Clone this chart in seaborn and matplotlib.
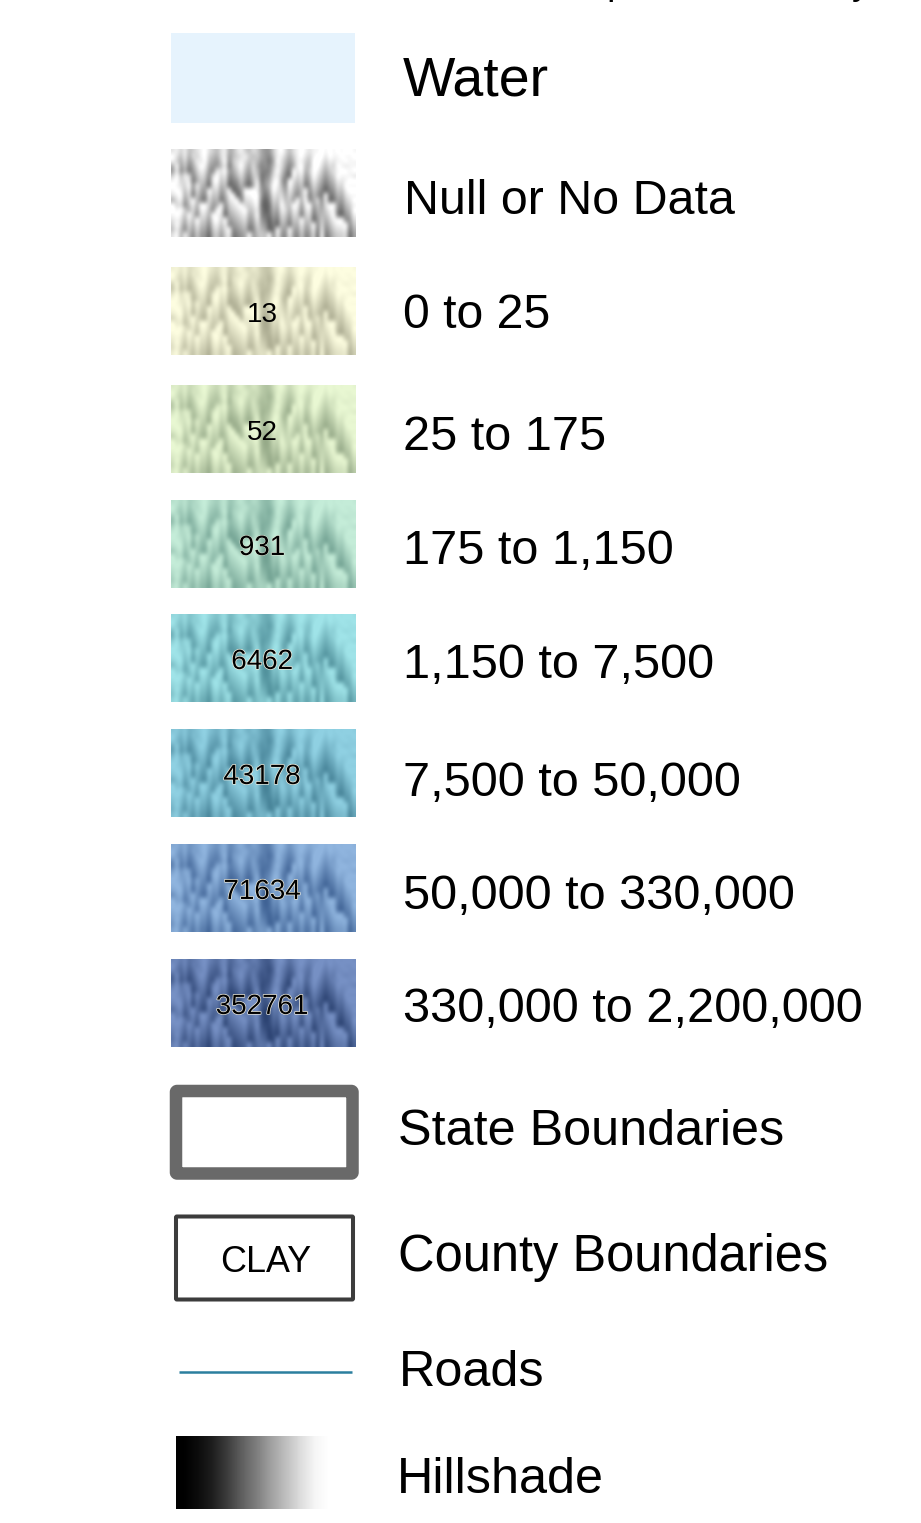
import numpy as np
import matplotlib
matplotlib.use('Agg')
import matplotlib.pyplot as plt
import matplotlib.patheffects as pe
from matplotlib.patches import FancyBboxPatch
import seaborn as sns

sns.set_theme(style='white')
plt.rcParams['font.family'] = ['Liberation Sans', 'DejaVu Sans']

W, H = 921, 1523

# legend content
class_labels = ['0 to 25', '25 to 175', '175 to 1,150', '1,150 to 7,500', '7,500 to 50,000',
                '50,000 to 330,000', '330,000 to 2,200,000']
class_values = ['13', '52', '931', '6462', '43178', '71634', '352761']
class_dark = ['#a8a88e', '#93a786', '#6f9f90', '#4f8f9a', '#437f94', '#3c5f92', '#283f6e']
class_light = ['#fdfde0', '#e8f7d2', '#c4ecd8', '#9fe3e8', '#8fd0e2', '#8fb4de', '#7690c4']

relief_rows = ['7868567897 6578457865 7643368975 7898788989 898998',
               '9758476896 5478356786 5643258864 6897689979 889889',
               '8647358795 4369267875 6533149753 5886599868 788988',
               '4936247984 3358157964 7423258742 4895599757 698788',
               '3825136873 2879346853 7522269631 9794698646 789989',
               '6958725762 7968235742 6612378520 9683597535 698887',
               '8967814651 8957123631 5813489419 7572486424 587899',
               '9876938540 7846012520 4923598529 6461375313 476988',
               '8985827439 6735901399 9832497638 5359264202 365899',
               '7894716328 5624890288 9931386747 4258153191 254788',
               '4783695217 4513789177 8920275856 3949247280 143679',
               '9672584996 3492678966 7910164965 9838936379 932568',
               '9896473885 2981567895 6820153874 8727825468 821459',
               '8985962774 9870456784 5921142763 7616714557 910348',
               '7874859663 8969345673 4832031652 6595603646 899237',
               '6963748552 7858234562 3743020541 5484592735 788926',
               '5852637441 6747923451 2654019439 4373481824 677815',
               '7948526330 5636812349 3565928328 3262370913 566704']
relief = np.array([[int(c) for c in row.replace(' ', '')] for row in relief_rows])

hillshade_ramp = [0, 12, 30, 60, 95, 125, 160, 190, 220, 245, 255]

fig = plt.figure(figsize=(W / 100, H / 100), dpi=100)
fig.patch.set_facecolor('white')


def px_axes(x0, y0, x1, y1):
    ax = fig.add_axes([x0 / W, 1 - y1 / H, (x1 - x0) / W, (y1 - y0) / H])
    ax.set_axis_off()
    return ax


def label(x, y, s, px):
    fig.text(x / W, 1 - (y + 4) / H, s, fontsize=px * 0.72, color='black', ha='left', va='center')


# title is cut by the top edge, only the descenders show
fig.text(562 / W, 1 + 5.5 / H, 'Population Density', fontsize=37 * 0.72, color='black',
         ha='left', va='baseline')

# water
ax = px_axes(171, 33, 355, 123)
ax.set_axis_on()
ax.set_facecolor('#e6f3fd')
ax.set_xticks([])
ax.set_yticks([])
sns.despine(ax=ax, left=True, bottom=True)
label(403, 78, 'Water', 55.5)

# null or no data
ax = px_axes(171, 149, 355, 237)
cmap = sns.blend_palette(['#5c5c5c', '#ffffff'], as_cmap=True)
ax.imshow(relief, cmap=cmap, aspect='auto', interpolation='bicubic', vmin=0, vmax=8.5)
label(404, 197, 'Null or No Data', 48.4)

# population classes
class_tops = [267, 385, 500, 614, 729, 844, 959]
label_ys = [312, 433, 548, 661, 779, 893, 1006]
label_px = [48.3, 48.6, 48.6, 48.7, 48.7, 48.7, 48.8]
halo = [0, 0, 0.6, 1.0, 1.0, 1.0, 1.0]
for i, name in enumerate(class_labels):
    ax = px_axes(171, class_tops[i], 355, class_tops[i] + 88)
    cmap = sns.blend_palette([class_dark[i], class_light[i]], as_cmap=True)
    ax.imshow(relief, cmap=cmap, aspect='auto', interpolation='bicubic', vmin=0, vmax=8.5)
    txt = ax.text(0.495, 0.455, class_values[i], transform=ax.transAxes, ha='center', va='center',
                  fontsize=20, color='black')
    if halo[i]:
        txt.set_path_effects([pe.withStroke(linewidth=halo[i], foreground='#f4f0e0')])
    label(403, label_ys[i], name, label_px[i])

# boundaries and roads are drawn on one overlay in pixel space
overlay = px_axes(0, 0, W, H)
overlay.set_xlim(0, W)
overlay.set_ylim(H, 0)
overlay.patch.set_alpha(0)
overlay.add_patch(FancyBboxPatch((176, 1091), 176.5, 82.5, boxstyle='round,pad=0,rounding_size=1',
                                 fc='white', ec='#696969', lw=9, joinstyle='round'))
label(398, 1128, 'State Boundaries', 50.4)
overlay.add_patch(FancyBboxPatch((176, 1216.5), 177, 83, boxstyle='round,pad=0,rounding_size=1',
                                 fc='white', ec='#3c3c3c', lw=2.9))
overlay.text(265.5, 1263, 'CLAY', fontsize=25.8, ha='center', va='center', color='black')
label(398, 1254, 'County Boundaries', 50.6)
overlay.plot([179, 352], [1372, 1372], color='#2b7f9e', lw=1.8, solid_capstyle='butt')
label(399, 1369, 'Roads', 50.4)

# hillshade ramp
ax = px_axes(176, 1436, 336, 1509)
ramp_cmap = sns.blend_palette(['#000000', '#ffffff'], as_cmap=True)
ax.imshow([hillshade_ramp], cmap=ramp_cmap, aspect='auto', interpolation='bilinear', vmin=0, vmax=255)
label(397, 1476, 'Hillshade', 50.4)

fig.savefig('out.png', dpi=100)
